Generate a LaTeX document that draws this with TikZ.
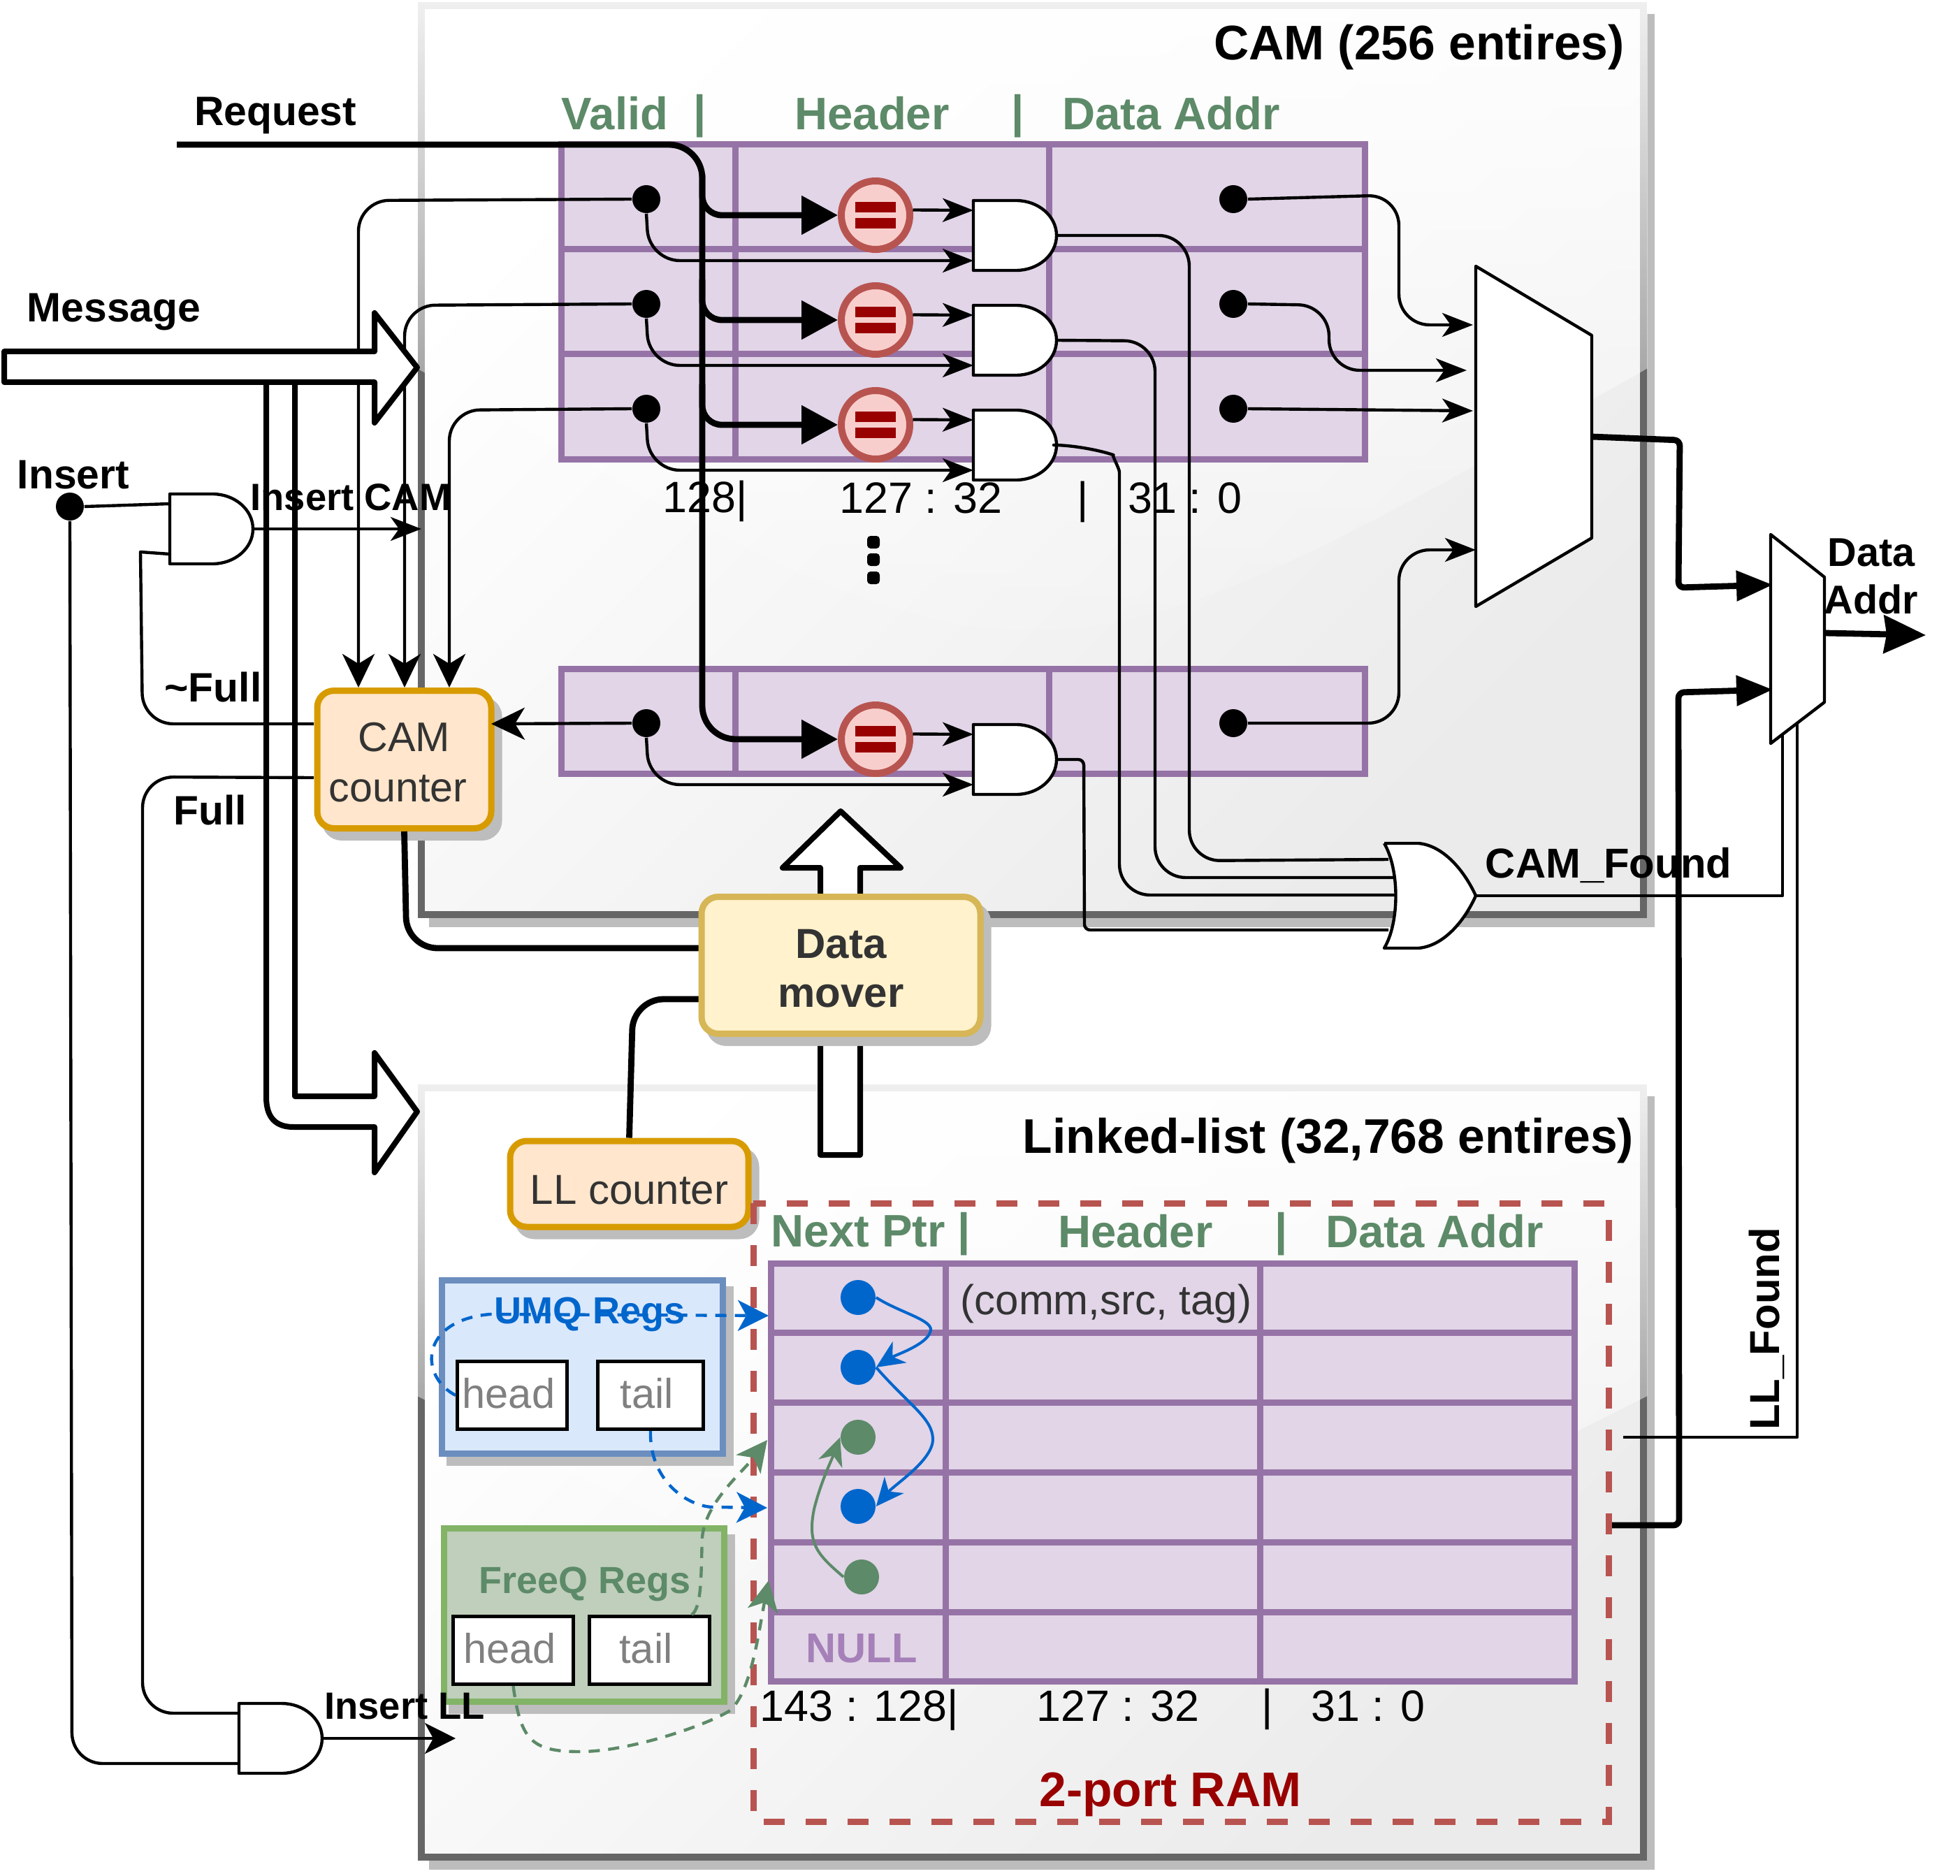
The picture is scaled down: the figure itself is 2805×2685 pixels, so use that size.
\documentclass[tikz,border=0pt]{standalone}
\usepackage{fontspec}
\setmainfont{Liberation Sans}
\usetikzlibrary{arrows.meta,fadings}
\definecolor{cellfill}{HTML}{E1D5E7}
\definecolor{celldraw}{HTML}{9673A6}
\definecolor{cmpfill}{HTML}{F8CECC}
\definecolor{cmpdraw}{HTML}{B85450}
\definecolor{darkred}{HTML}{990000}
\definecolor{grn}{HTML}{5D8A68}
\definecolor{blu}{HTML}{0066CC}
\definecolor{shad}{HTML}{BDBDBD}
\definecolor{txt}{HTML}{333333}
\definecolor{cntfill}{HTML}{FFE6CC}
\definecolor{cntdraw}{HTML}{D79B00}
\definecolor{movfill}{HTML}{FFF2CC}
\definecolor{movdraw}{HTML}{D6B656}
\definecolor{umqfill}{HTML}{DAE8FC}
\definecolor{umqdraw}{HTML}{6C8EBF}
\definecolor{frqfill}{HTML}{BFCFBB}
\definecolor{frqdraw}{HTML}{82B366}
\definecolor{nulltxt}{HTML}{A680B8}
\tikzset{
  cell/.style={draw=celldraw,fill=cellfill,line width=2.25pt},
  wire/.style={line width=1.1pt,rounded corners=11pt,line join=round},
  bus/.style={line width=2.2pt,rounded corners=11pt,line join=round},
  block/.style={draw=black,fill=white,line width=2pt,line join=round},
  gate/.style={draw=black,fill=white,line width=1.1pt,line join=round},
  dot/.style={circle,fill=black,inner sep=0pt,minimum size=10pt},
  listdot/.style={circle,fill=#1,inner sep=0pt,minimum size=12.5pt},
  cmp/.style={circle,draw=cmpdraw,fill=cmpfill,line width=2.5pt,inner sep=0pt,minimum size=24.5pt},
  shadowed/.style={preaction={draw=shad,fill=shad,transform canvas={shift={(2.75pt,-3.25pt)}}}},
  counter/.style={shadowed,draw=cntdraw,fill=cntfill,rounded corners=6pt,line width=2.25pt,inner sep=0pt,align=center,text=txt},
  regbox/.style={rectangle,draw=black,fill=white,line width=1.25pt,inner sep=0pt,text=gray,text depth=1.5pt,font=\fontsize{14.9}{17}\selectfont},
  tipbig/.tip={Stealth[length=12pt,width=11.5pt,inset=3.5pt]},
  tipcmp/.tip={Triangle[length=13pt,width=13.5pt]},
  tipbus/.tip={Triangle[length=13pt,width=10.5pt]},
  tiplist/.tip={Stealth[length=10pt,width=9pt,inset=3pt]},
  tipdash/.tip={Stealth[length=11pt,width=11pt,inset=3pt]},
  >={Stealth[length=11pt,width=8.5pt,inset=3pt]},
  lblS/.style={inner sep=0pt,font=\fontsize{13.6}{16}\selectfont\bfseries},
  lblM/.style={inner sep=0pt,font=\fontsize{14.7}{17.2}\selectfont\bfseries},
  lblL/.style={inner sep=0pt,font=\fontsize{17.4}{21}\selectfont\bfseries},
  hdr/.style={inner sep=0pt,text=grn,font=\fontsize{16.3}{19}\selectfont\bfseries},
  bits/.style={inner sep=0pt,font=\fontsize{15.7}{19}\selectfont},
  dashblue/.style={line width=1.1pt,blu,dash pattern=on 4pt off 3pt,-tipdash},
  dashgreen/.style={line width=1.1pt,grn,dash pattern=on 4pt off 3pt,-tipdash},
}
% two input gate, inputs a and b, output o
\newcommand{\andgate}[3]{
  \draw[gate] (#2,#3-50) -- (#2+61,#3-50) arc[start angle=90,end angle=-90,x radius=14.5pt,y radius=12.5pt] -- (#2,#3+50) -- cycle;
  \coordinate (#1a) at (#2,#3-36);
  \coordinate (#1b) at (#2,#3+36);
  \coordinate (#1o) at (#2+119,#3);
}
% panel with shadow and glass
\newcommand{\panel}[6]{
  \fill[shad] (#1+11,#2+12) rectangle (#3+16,#4+18);
  \draw[draw=black!60,line width=2.5pt,shade,top color=white,bottom color=black!8,shading angle=45] (#1,#2) rectangle (#3,#4);
  \fill[white,fill opacity=0.9,path fading=south] (#1-6,#2-6) -- (#3+6,#2-6) -- (#3+6,#5) .. controls (#1/2+#3/2,#6) .. (#1-6,#5) -- cycle;
}
\begin{document}
\begin{tikzpicture}[x=0.25pt,y=-0.25pt]
\useasboundingbox (0,0) rectangle (2805,2685);
\panel{603}{8}{2352}{1309}{527}{1027}
\panel{603}{1557}{2352}{2658}{1998}{2440}
% cam table
\foreach \n/\y in {1/285,2/435,3/585,4/1035}{
  \draw[cell] (803,\y-78) rectangle (1052,\y+72);
  \draw[cell] (1052,\y-78) rectangle (1501,\y+72);
  \draw[cell] (1501,\y-78) rectangle (1953,\y+72);
}
\node[hdr] (validh) at (880,162) {Valid};
\node[hdr] (bar1) at (1002,166) {|};
\node[hdr] (headerh) at (1248,162) {Header};
\node[hdr] (bar2) at (1457,166) {|};
\node[hdr] (addrh) at (1676,162) {Data Addr};
\node[lblL] (camtitle) at (2031,68) {CAM (256 entires)};
\node[lblM] (request) at (394,165) {Request};
\node[lblM] (message) at (163,447) {Message};
\coordinate (req) at (253,207);
\coordinate (dmin1) at (1005,1357);
\coordinate (dmin2) at (1005,1430);
% gates and cells of each row
\foreach \n/\y in {1/285,2/435,3/585,4/1035}{
  \node[dot] (v\n) at (925,\y) {};
  \node[dot] (d\n) at (1765,\y) {};
  \node[cmp] (cmp\n) at (1253,\y+23) {};
  \fill[darkred] (1224,\y+4) rectangle (1282,\y+19);
  \fill[darkred] (1224,\y+27) rectangle (1282,\y+42);
  \andgate{g\n}{1393}{\y+52}
  \draw[wire,->] (cmp\n.8) -- (g\n a);
  \draw[wire,->] (v\n.south) -- (929,\y+88) -- (g\n b);
}
% request bus
\draw[bus,rounded corners=12pt,-tipcmp] (req) -- (1005,207) -- (1005,1058) -- (cmp4.west);
\foreach \n/\y in {1/285,2/435,3/585}{
  \draw[bus,rounded corners=7pt,-tipcmp] (1005,\y-35) -- (1005,\y+23) -- (cmp\n.west);
}
% valid bits to counter
\draw[wire,-tipbig] (v1.west) -- (513,287) -- (513,984);
\draw[wire,-tipbig] (v2.west) -- (579,437) -- (579,984);
\draw[wire,-tipbig] (v3.west) -- (643,587) -- (643,984);
% message to linked list
\draw[block,rounded corners=0pt] (381,547) -- (381,1570) .. controls (381,1600) and (395,1613) .. (420,1613) -- (536,1613) -- (536,1678) -- (597,1591) -- (536,1507) -- (536,1569) -- (422,1569) -- (422,547);
% insert cam gate
\node[dot] (ins) at (100,725) {};
\andgate{g0}{243}{757}
\coordinate (insout) at (603,757);
\coordinate (fullout) at (449,1113);
\coordinate (camleft) at (449,1036);
\coordinate (camright) at (703,1036);
\draw[wire] (ins.east) -- (g0a);
\draw[wire,sharp corners] (g0b) -- (201,790) [rounded corners=11pt] -- (204,1036) -- (camleft);
\draw[wire,->] (g0o) -- (insout);
\andgate{g5}{342}{2488}
\coordinate (insll) at (652,2488);
\draw[wire] (ins.south) -- (103,2524) -- (g5b);
\draw[wire] (fullout) -- (204,1112) -- (204,2452) -- (g5a);
\draw[wire,-tipdash] (g5o) -- (insll);
\draw[block] (6,503) -- (536,503) -- (536,448) -- (597,526) -- (536,605) -- (536,547) -- (6,547) -- cycle;
% block arrow up
\draw[block] (1174,1653) -- (1174,1242) -- (1120,1242) -- (1203,1161) -- (1289,1242) -- (1231,1242) -- (1231,1653) -- cycle;
% counters and mover
\node[counter,minimum width=62.25pt,minimum height=49.25pt,font=\fontsize{14.8}{18}\selectfont,text depth=0pt] (camc) at (578.5,1087) {\rule{0pt}{12.1pt}CAM\\counter\hspace*{4.5pt}};
\node[counter,minimum width=85.25pt,minimum height=30.75pt,font=\fontsize{15}{18}\selectfont] (llc) at (900.5,1694.5) {\rule{0pt}{14.8pt}LL counter};
\draw[wire,-tipbig] (v4.west) -- (camright);
\draw[bus] (camc.south) -- (582,1357) -- (dmin1);
\draw[bus] (llc.north) -- (906,1430) -- (dmin2);
\node[shadowed,fill=movfill,draw=movdraw,rounded corners=6pt,line width=2.25pt,inner sep=0pt,minimum width=99.75pt,minimum height=49pt,align=center,text=txt,font=\fontsize{15}{17.5}\selectfont\bfseries] (dm) at (1203.5,1381.5) {\rule{0pt}{12.6pt}Data\\mover};
% or gate
\coordinate (or1) at (1987,1230);
\coordinate (or2) at (1996,1256);
\coordinate (or3) at (1996,1281);
\coordinate (or4) at (1987,1331);
\draw[wire] (g1o) -- (1702,337) -- (1702,1232) -- (or1);
\draw[wire] (g2o) -- (1653,488) -- (1653,1256) -- (or2);
\draw[wire] (g3o) -- (1552,637) .. controls (1590,650) and (1602,670) .. (1602,720) -- (1602,1281) -- (or3);
\draw[wire,rounded corners=2pt] (g4o) -- (1551,1087) -- (1552,1331) -- (or4);
\draw[gate] (1981,1207) -- (2030,1207) .. controls (2065,1210) and (2095,1245) .. (2112,1282) .. controls (2095,1320) and (2065,1354) .. (2030,1357) -- (1981,1357) .. controls (2003,1320) and (2003,1245) .. (1981,1207);
\coordinate (oro) at (2112,1282);
% mux
\coordinate (m1) at (2108,465);
\coordinate (m2) at (2099,530);
\coordinate (m3) at (2108,588);
\coordinate (m4) at (2112,787);
\coordinate (mo) at (2278,625);
\draw[wire,->] (d1.east) -- (2002,279) -- (2002,465) -- (m1);
\draw[wire,->] (d2.east) -- (1902,437) -- (1902,530) -- (m2);
\draw[wire,->] (d3.east) -- (m3);
\draw[wire,->] (d4.east) -- (2002,1035) -- (2002,787) -- (m4);
\draw[gate] (2112,381) -- (2278,480) -- (2278,770) -- (2112,868) -- cycle;
\coordinate (m2a) at (2537,837);
\coordinate (m2b) at (2537,987);
\coordinate (m2o) at (2611,906);
\coordinate (dout) at (2756,909);
\coordinate (llf) at (2323,2057);
\coordinate (ramo) at (2303,2183);
\draw[wire,rounded corners=0pt] (oro) -- (2551,1282) -- (2551,1049);
\draw[wire,rounded corners=0pt] (llf) -- (2572,2057) -- (2572,1030);
\draw[bus,rounded corners=2pt,-tipbus] (mo) -- (2404,630) -- (2402,841) -- (m2a);
\draw[bus,rounded corners=2pt,-tipbus] (ramo) -- (2403,2183) -- (2402,991) -- (m2b);
\draw[gate] (2534,765) -- (2611,826) -- (2611,1005) -- (2534,1064) -- cycle;
\draw[bus,-{Triangle[length=15pt,width=13.5pt,inset=1pt]}] (m2o) -- (dout);
% linked list
\node[lblL] (lltitle) at (1901,1632) {Linked-list (32,768 entires)};
\draw[draw=cmpdraw,line width=2.25pt,dash pattern=on 7.5pt off 7.5pt] (1078,1722) rectangle (2302,2607);
\node[hdr] (nextp) at (1228,1762) {Next Ptr};
\node[hdr] (bar3) at (1380,1766) {|};
\node[hdr] (headerl) at (1625,1762) {Header};
\node[hdr] (bar4) at (1834,1766) {|};
\node[hdr] (addrl) at (2053,1762) {Data Addr};
\foreach \t/\b in {1808/1907,1907/2007,2007/2107,2107/2207,2207/2307,2307/2406}{
  \draw[cell] (1103,\t) rectangle (1353,\b);
  \draw[cell] (1353,\t) rectangle (1803,\b);
  \draw[cell] (1803,\t) rectangle (2253,\b);
}
\node[inner sep=0pt,text=txt,font=\fontsize{15}{18}\selectfont] (tagtxt) at (1583,1866) {(comm,src, tag)};
\node[inner sep=0pt,text=nulltxt,font=\fontsize{14.9}{18}\selectfont\bfseries] (nullt) at (1233,2359) {NULL};
\node[listdot=blu] (b1) at (1228,1857) {};
\node[listdot=blu] (b2) at (1228,1957) {};
\node[listdot=grn] (f1) at (1228,2057) {};
\node[listdot=blu] (b3) at (1228,2156) {};
\node[listdot=grn] (f2) at (1233,2257) {};
\draw[line width=1pt,blu,-tiplist] (b1.east) .. controls (1290,1880) and (1340,1890) .. (1331,1907) .. controls (1325,1925) and (1280,1940) .. (b2.east);
\draw[line width=1pt,blu,-tiplist] (b2.east) .. controls (1300,2010) and (1335,2030) .. (1335,2060) .. controls (1335,2090) and (1280,2125) .. (b3.east);
\draw[line width=1pt,grn,-tiplist] (f2.west) .. controls (1170,2225) and (1155,2210) .. (1165,2160) .. controls (1175,2120) and (1190,2090) .. (f1.west);
% registers
\node[shadowed,fill=umqfill,draw=umqdraw,line width=2.25pt,inner sep=0pt,minimum width=100.5pt,minimum height=62pt] (umq) at (833,1956) {};
\node[shadowed,fill=frqfill,draw=frqdraw,line width=2.25pt,inner sep=0pt,minimum width=100.25pt,minimum height=62pt] (freeq) at (835.5,2311) {};
\node[inner sep=0pt,text=blu,font=\fontsize{13.5}{16}\selectfont\bfseries] (umqt) at (844,1881) {UMQ Regs};
\node[inner sep=0pt,text=grn,font=\fontsize{13.5}{16}\selectfont\bfseries] (freeqt) at (837,2267) {FreeQ Regs};
\node[regbox,minimum width=39.25pt,minimum height=24.25pt] (uhead) at (733,1997) {head\hspace*{2.5pt}};
\node[regbox,minimum width=37.75pt,minimum height=24.25pt] (utail) at (931,1997) {tail\hspace*{2.5pt}};
\node[regbox,minimum width=43pt,minimum height=24.25pt] (fhead) at (734.5,2362) {head\hspace*{2.5pt}};
\node[regbox,minimum width=43pt,minimum height=24.25pt] (ftail) at (929.5,2362) {tail\hspace*{2.5pt}};
\coordinate (ramin1) at (1100,1883);
\coordinate (ramin2) at (1098,2158);
\coordinate (ramin3) at (1098,2061);
\coordinate (ramin4) at (1100,2262);
\coordinate (fq1) at (990,2311);
\draw[dashblue] (uhead.west) .. controls (600,1970) and (600,1890) .. (701,1881) -- (ramin1);
\draw[dashblue] (utail.south) .. controls (929,2120) and (985,2156) .. (1020,2157) -- (ramin2);
\draw[dashgreen] (fq1) .. controls (1005,2300) and (1003,2250) .. (1005,2200) .. controls (1010,2150) and (1060,2110) .. (ramin3);
\draw[dashgreen] (fhead.south) .. controls (745,2490) and (760,2507) .. (830,2507) .. controls (900,2507) and (1010,2470) .. (1045,2448) .. controls (1075,2420) and (1085,2340) .. (ramin4);
% texts
\node[lblM] (inst) at (105,680) {Insert};
\node[lblS] (inscam) at (502,712) {Insert CAM};
\node[lblM] (nfull) at (305,983) {\textasciitilde Full};
\node[lblM] (full) at (301,1159) {Full};
\node[lblS] (insllt) at (579,2442) {Insert LL};
\node[inner sep=0pt,font=\fontsize{14.95}{18}\selectfont\bfseries] (camf) at (2302,1238) {CAM\_Found};
\node[lblM,align=center,font=\fontsize{14.4}{17}\selectfont\bfseries] (addrt) at (2678,825) {Data\\Addr};
\node[inner sep=0pt,rotate=90,font=\fontsize{15}{18}\selectfont\bfseries] (llft) at (2528,1902) {LL\_Found};
\node[bits] (b128) at (1009,717) {128|};
\node[bits] (b127) at (1318,713) {127 : 32};
\node[bits] (bar5) at (1550,718) {|};
\node[bits] (b31) at (1696,713) {31 : 0};
\node[bits] (l143) at (1230,2447) {143 : 128|};
\node[bits] (l127) at (1600,2442) {127 : 32};
\node[bits] (bar6) at (1814,2446) {|};
\node[bits] (l31) at (1958,2442) {31 : 0};
\node[lblL,text=darkred] (ram2) at (1675,2568) {2-port RAM};
\foreach \n/\y in {1/776,2/801,3/827}{
  \node[rectangle,fill=black,rounded corners=1.2pt,inner sep=0pt,minimum size=4.5pt] (el\n) at (1250,\y) {};
}
\end{tikzpicture}
\end{document}
